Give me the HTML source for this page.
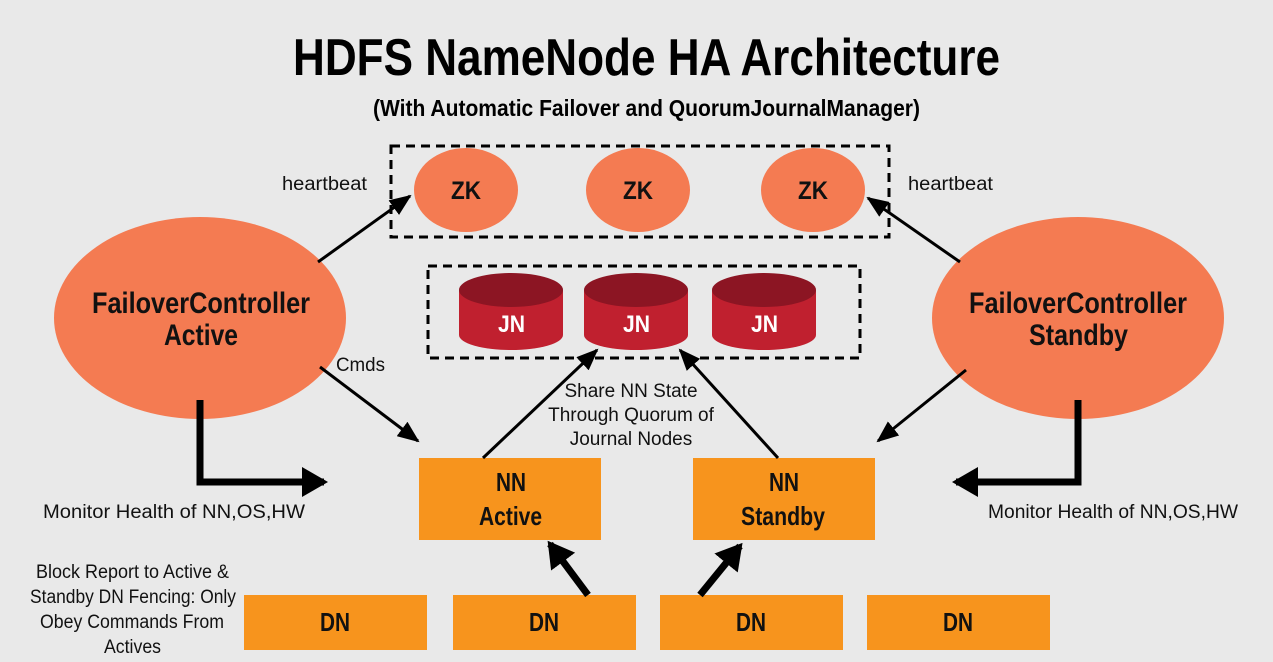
<!DOCTYPE html>
<html><head><style>
body{margin:0;background:#e9e9e9;}
svg{display:block}
text{font-family:"Liberation Sans Narrow","Liberation Sans",sans-serif;}
.b{font-weight:bold}
</style></head><body>
<svg width="1273" height="662" viewBox="0 0 1273 662" xmlns="http://www.w3.org/2000/svg">
<defs>
<marker id="a" markerWidth="22" markerHeight="18" refX="20" refY="9" orient="auto" markerUnits="userSpaceOnUse" viewBox="0 0 22 18"><path d="M0,0 L22,9 L0,18 z" fill="#000"/></marker>
<marker id="ab" markerWidth="26" markerHeight="30" refX="22" refY="15" orient="auto" markerUnits="userSpaceOnUse" viewBox="0 0 26 30"><path d="M0,0 L26,15 L0,30 z" fill="#000"/></marker>
</defs>
<rect width="1273" height="662" fill="#e9e9e9"/>
<text x="293" y="75" textLength="707" lengthAdjust="spacingAndGlyphs" class="b" font-size="52" fill="#000">HDFS NameNode HA Architecture</text>
<text x="373" y="116" textLength="547" lengthAdjust="spacingAndGlyphs" class="b" font-size="23" fill="#000">(With Automatic Failover and QuorumJournalManager)</text>

<rect x="391" y="146" width="498" height="91" fill="none" stroke="#000" stroke-width="3" stroke-dasharray="9,6"/>
<rect x="428" y="266" width="432" height="92" fill="none" stroke="#000" stroke-width="3" stroke-dasharray="9,6"/>

<g fill="#f47b52">
<ellipse cx="466" cy="190" rx="52" ry="42"/>
<ellipse cx="638" cy="190" rx="52" ry="42"/>
<ellipse cx="813" cy="190" rx="52" ry="42"/>
<ellipse cx="200" cy="318" rx="146" ry="101"/>
<ellipse cx="1078" cy="318" rx="146" ry="101"/>
</g>
<g class="b" font-size="25" fill="#111">
<text x="451" y="199" textLength="30" lengthAdjust="spacingAndGlyphs">ZK</text>
<text x="623" y="199" textLength="30" lengthAdjust="spacingAndGlyphs">ZK</text>
<text x="798" y="199" textLength="30" lengthAdjust="spacingAndGlyphs">ZK</text>
</g>
<g class="b" font-size="30" fill="#111">
<text x="92" y="313" textLength="218" lengthAdjust="spacingAndGlyphs">FailoverController</text>
<text x="164" y="345" textLength="74" lengthAdjust="spacingAndGlyphs">Active</text>
<text x="969" y="313" textLength="218" lengthAdjust="spacingAndGlyphs">FailoverController</text>
<text x="1029" y="345" textLength="99" lengthAdjust="spacingAndGlyphs">Standby</text>
</g>

<g>
<g transform="translate(511,0)"><path d="M-52,290 V335 A52,15 0 0 0 52,335 V290 Z" fill="#c0202f"/><ellipse cx="0" cy="290" rx="52" ry="17" fill="#8c1523"/></g>
<g transform="translate(636,0)"><path d="M-52,290 V335 A52,15 0 0 0 52,335 V290 Z" fill="#c0202f"/><ellipse cx="0" cy="290" rx="52" ry="17" fill="#8c1523"/></g>
<g transform="translate(764,0)"><path d="M-52,290 V335 A52,15 0 0 0 52,335 V290 Z" fill="#c0202f"/><ellipse cx="0" cy="290" rx="52" ry="17" fill="#8c1523"/></g>
</g>
<g class="b" font-size="24" fill="#fff">
<text x="498" y="332" textLength="27" lengthAdjust="spacingAndGlyphs">JN</text>
<text x="623" y="332" textLength="27" lengthAdjust="spacingAndGlyphs">JN</text>
<text x="751" y="332" textLength="27" lengthAdjust="spacingAndGlyphs">JN</text>
</g>

<g fill="#f7941d">
<rect x="419" y="458" width="182" height="82"/>
<rect x="693" y="458" width="182" height="82"/>
<rect x="244" y="595" width="183" height="55"/>
<rect x="453" y="595" width="183" height="55"/>
<rect x="660" y="595" width="183" height="55"/>
<rect x="867" y="595" width="183" height="55"/>
</g>
<g class="b" font-size="26" fill="#111">
<text x="496" y="491" textLength="30" lengthAdjust="spacingAndGlyphs">NN</text>
<text x="479" y="525" textLength="63" lengthAdjust="spacingAndGlyphs">Active</text>
<text x="769" y="491" textLength="30" lengthAdjust="spacingAndGlyphs">NN</text>
<text x="741" y="525" textLength="84" lengthAdjust="spacingAndGlyphs">Standby</text>
<text x="320" y="631" textLength="30" lengthAdjust="spacingAndGlyphs">DN</text>
<text x="529" y="631" textLength="30" lengthAdjust="spacingAndGlyphs">DN</text>
<text x="736" y="631" textLength="30" lengthAdjust="spacingAndGlyphs">DN</text>
<text x="943" y="631" textLength="30" lengthAdjust="spacingAndGlyphs">DN</text>
</g>

<g stroke="#000" stroke-width="3" fill="none" marker-end="url(#a)">
<line x1="318" y1="262" x2="410" y2="196"/>
<line x1="960" y1="262" x2="868" y2="198"/>
<line x1="320" y1="367" x2="418" y2="441"/>
<line x1="966" y1="370" x2="878" y2="441"/>
<line x1="483" y1="458" x2="597" y2="350"/>
<line x1="778" y1="458" x2="680" y2="350"/>
</g>
<g stroke="#000" stroke-width="7" fill="none" marker-end="url(#ab)">
<polyline points="200,400 200,482 324,482"/>
<polyline points="1078,400 1078,482 956,482"/>
<line x1="588" y1="595" x2="550" y2="544"/>
<line x1="700" y1="595" x2="740" y2="546"/>
</g>

<g font-size="19" fill="#111">
<text x="282" y="190" textLength="85" lengthAdjust="spacingAndGlyphs">heartbeat</text>
<text x="908" y="190" textLength="85" lengthAdjust="spacingAndGlyphs">heartbeat</text>
<text x="336" y="371" textLength="49" lengthAdjust="spacingAndGlyphs">Cmds</text>
<text x="631" y="397" text-anchor="middle">Share NN State</text>
<text x="631" y="421" text-anchor="middle">Through Quorum of</text>
<text x="631" y="445" text-anchor="middle">Journal Nodes</text>
<text x="43" y="518" textLength="262" lengthAdjust="spacingAndGlyphs">Monitor Health of NN,OS,HW</text>
<text x="988" y="518" textLength="250" lengthAdjust="spacingAndGlyphs">Monitor Health of NN,OS,HW</text>
<text x="36" y="578" textLength="193" lengthAdjust="spacingAndGlyphs">Block Report to Active &amp;</text>
<text x="30" y="603" textLength="206" lengthAdjust="spacingAndGlyphs">Standby DN Fencing: Only</text>
<text x="40" y="628" textLength="184" lengthAdjust="spacingAndGlyphs">Obey Commands From</text>
<text x="104" y="653" textLength="57" lengthAdjust="spacingAndGlyphs">Actives</text>
</g>
</svg>
</body></html>
